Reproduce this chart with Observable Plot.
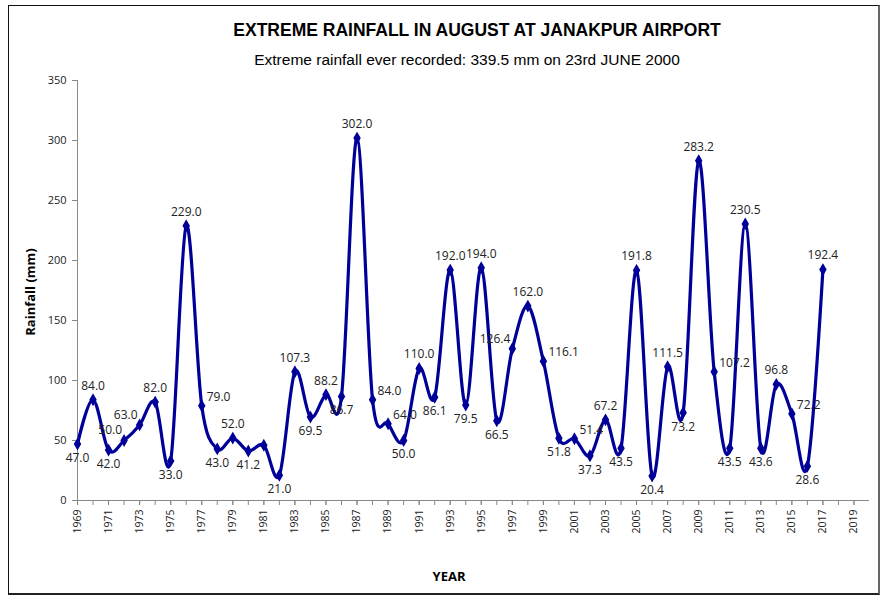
<!DOCTYPE html>
<html>
<head>
<meta charset="utf-8">
<script src="https://cdn.jsdelivr.net/npm/d3@7"></script>
<script src="https://cdn.jsdelivr.net/npm/@observablehq/plot@0.6"></script>
<style>
  body { margin: 0; background: #fff; }
  #wrap { position: relative; width: 886px; height: 598px; overflow: hidden; }
  #frame { position: absolute; left: 8px; top: 5px; width: 872px; height: 590px;
           border-left: 1px solid #111; border-top: 1px solid #111;
           border-right: 2px solid #666; border-bottom: 2px solid #222; box-sizing: border-box; }
  .t { position: absolute; white-space: nowrap; font-family: "Liberation Sans", Arial, sans-serif; color: #000; }
  #title { left: 477px; top: 30px; transform: translate(-50%, -50%); font-size: 17.5px; font-weight: bold; }
  #subtitle { left: 467px; top: 60px; transform: translate(-50%, -50%); font-size: 15.5px; }
  #ylab { left: 30px; top: 292px; transform: translate(-50%, -50%) rotate(-90deg); font-size: 13px; font-weight: bold; font-family: "Open Sans", sans-serif; }
  #xlab { left: 449px; top: 576px; transform: translate(-50%, -50%); font-size: 13px; font-weight: bold; font-family: "Open Sans", sans-serif; }
  svg { position: absolute; left: 0; top: 0; }
</style>
</head>
<body>
<div id="wrap">
  <div id="frame"></div>
  <div id="chart"></div>
  <div class="t" id="title">EXTREME RAINFALL IN AUGUST AT JANAKPUR AIRPORT</div>
  <div class="t" id="subtitle">Extreme rainfall ever recorded: 339.5 mm on 23rd JUNE 2000</div>
  <div class="t" id="ylab">Rainfall (mm)</div>
  <div class="t" id="xlab">YEAR</div>
</div>
<script>
const years = [1969,1970,1971,1972,1973,1974,1975,1976,1977,1978,
               1979,1980,1981,1982,1983,1984,1985,1986,1987,1988,
               1989,1990,1991,1992,1993,1994,1995,1996,1997,1998,
               1999,2000,2001,2002,2003,2004,2005,2006,2007,2008,
               2009,2010,2011,2012,2013,2014,2015,2016,2017];
const rainfall = [47.0,84.0,42.0,50.0,63.0,82.0,33.0,229.0,79.0,43.0,
                  52.0,41.2,46.0,21.0,107.3,69.5,88.2,86.7,302.0,84.0,
                  64.0,50.0,110.0,86.1,192.0,79.5,194.0,66.5,126.4,162.0,
                  116.1,51.8,51.4,37.3,67.2,43.5,191.8,20.4,111.5,73.2,
                  283.2,107.2,43.5,230.5,43.6,96.8,72.2,28.6,192.4];
// data labels shown on the chart (1981 has none)
const labelText = ["47.0","84.0","42.0","50.0","63.0","82.0","33.0","229.0","79.0","43.0",
                   "52.0","41.2","","21.0","107.3","69.5","88.2","86.7","302.0","84.0",
                   "64.0","50.0","110.0","86.1","192.0","79.5","194.0","66.5","126.4","162.0",
                   "116.1","51.8","51.4","37.3","67.2","43.5","191.8","20.4","111.5","73.2",
                   "283.2","107.2","43.5","230.5","43.6","96.8","72.2","28.6","192.4"];
const xTickLabels = [1969,1971,1973,1975,1977,1979,1981,1983,1985,1987,1989,1991,1993,
                     1995,1997,1999,2001,2003,2005,2007,2009,2011,2013,2015,2017,2019];
const xMinorTicks = [1969,1970,1971,1972,1973,1974,1975,1976,1977,1978,1979,1980,1981,1982,
                     1983,1984,1985,1986,1987,1988,1989,1990,1991,1992,1993,1994,1995,1996,
                     1997,1998,1999,2000,2001,2002,2003,2004,2005,2006,2007,2008,2009,2010,
                     2011,2012,2013,2014,2015,2016,2017,2018,2019];
const yTicks = [0,50,100,150,200,250,300,350];

// label placement derived from the shape of the series around each point
const data = years.map((year, i) => {
  const v = rainfall[i];
  const prev = i > 0 ? rainfall[i - 1] : rainfall[i + 1];
  const next = i < rainfall.length - 1 ? rainfall[i + 1] : rainfall[i - 1];
  let pos;
  if (v >= Math.max(prev, next)) pos = "above";
  else if (v <= Math.min(prev, next)) pos = "below";
  else if (prev > v) pos = (v - next < 2) ? "below" : "right";
  else pos = "left";
  return {year, value: v, label: labelText[i], pos};
});

const navy = "#000099";
const txt = {x: "year", y: "value", text: "label", fontSize: 12, fill: "#222"};
const plot = Plot.plot({
  width: 886,
  height: 598,
  marginLeft: 77,
  marginRight: 17,
  marginTop: 80,
  marginBottom: 98,
  style: {background: "transparent", fontFamily: "'Open Sans', sans-serif", color: "#222"},
  x: {domain: [1969, 2020]},
  y: {domain: [0, 350]},
  marks: [
    Plot.axisY({ticks: yTicks, tickSize: 5, tickPadding: 6, fontSize: 11, label: null, stroke: "#888", fill: "#222"}),
    Plot.axisX({ticks: xMinorTicks, tickSize: 5, text: null, label: null, stroke: "#888"}),
    Plot.axisX({ticks: xTickLabels, tickSize: 5, tickPadding: 4, tickRotate: -90, tickFormat: d => String(d),
                fontSize: 10.5, label: null, stroke: "#888", fill: "#222"}),
    Plot.ruleY([0], {stroke: "#888"}),
    Plot.ruleX([1969], {y1: 0, y2: 350, stroke: "#888"}),
    Plot.line(data, {x: "year", y: "value", curve: "cardinal", stroke: navy, strokeWidth: 3.2}),
    Plot.dot(data, {x: "year", y: "value", symbol: "diamond", r: 3, fill: navy, stroke: navy}),
    Plot.text(data.filter(d => d.pos === "above"), {...txt, dy: -14}),
    Plot.text(data.filter(d => d.pos === "below"), {...txt, dy: 14}),
    Plot.text(data.filter(d => d.pos === "right"), {...txt, dy: -9, dx: 5, textAnchor: "start"}),
    Plot.text(data.filter(d => d.pos === "left"), {...txt, dy: -10, dx: -2, textAnchor: "end"})
  ]
});
document.getElementById("chart").appendChild(plot);
</script>
</body>
</html>
